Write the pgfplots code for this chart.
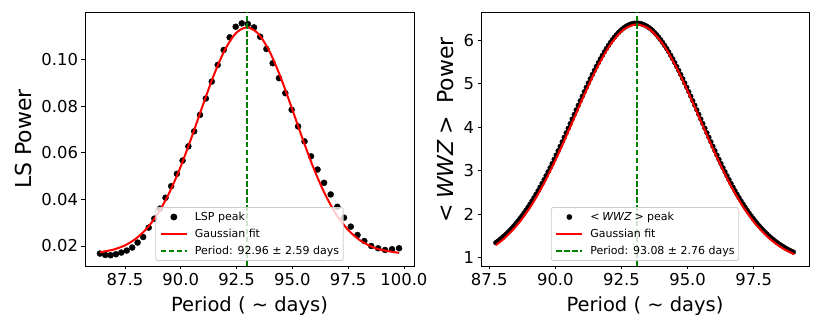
\documentclass[border=0pt]{standalone}
\usepackage{fontspec}
\setmainfont{DejaVu Sans}
\usepackage{pgfplots}
\usepackage{pgfplotstable}
\pgfplotsset{compat=1.18}
\definecolor{mplgreen}{HTML}{008000}

% LSP peak (period, power)
\pgfplotstableread{
p y
86.380 0.01675
86.617 0.01615
86.856 0.01602
87.096 0.01645
87.337 0.01717
87.580 0.01803
87.824 0.01932
88.069 0.02146
88.316 0.02385
88.564 0.02788
88.814 0.03173
89.064 0.03601
89.317 0.04072
89.571 0.04568
89.826 0.05099
90.083 0.05668
90.341 0.06280
90.601 0.06922
90.862 0.07630
91.125 0.08334
91.389 0.09062
91.655 0.09777
91.923 0.10419
92.191 0.10962
92.462 0.11416
92.734 0.11562
93.008 0.11532
93.283 0.11390
93.559 0.10988
93.838 0.10461
94.118 0.09849
94.400 0.09207
94.684 0.08565
94.969 0.07850
95.256 0.07136
95.545 0.06494
95.836 0.05852
96.128 0.05283
96.422 0.04713
96.718 0.04213
97.016 0.03686
97.315 0.03215
97.617 0.02830
97.920 0.02471
98.225 0.02214
98.533 0.02000
98.842 0.01902
99.152 0.01829
99.465 0.01859
99.780 0.01902
}\lspdata

% gaussian fit
\pgfplotstableread{
p y
86.38 0.01730
86.96 0.01839
87.46 0.02010
87.96 0.02293
88.46 0.02731
88.96 0.03367
89.46 0.04232
89.96 0.05323
90.46 0.06599
90.96 0.07966
91.46 0.09284
91.96 0.10390
92.46 0.11130
92.96 0.11390
93.46 0.11130
93.96 0.10390
94.46 0.09284
94.96 0.07966
95.46 0.06599
95.96 0.05323
96.46 0.04232
96.96 0.03367
97.46 0.02731
97.96 0.02293
98.46 0.02010
98.96 0.01839
99.78 0.01704
}\lspfit

% <WWZ> peak
\pgfplotstableread{
p y
87.750 1.345
87.826 1.380
87.902 1.416
87.978 1.455
88.054 1.495
88.130 1.538
88.206 1.583
88.282 1.630
88.358 1.679
88.434 1.731
88.510 1.785
88.586 1.841
88.662 1.900
88.738 1.961
88.814 2.025
88.890 2.091
88.966 2.159
89.042 2.230
89.118 2.303
89.194 2.379
89.270 2.457
89.346 2.538
89.422 2.621
89.498 2.706
89.574 2.793
89.650 2.883
89.726 2.974
89.802 3.067
89.878 3.163
89.954 3.259
90.030 3.358
90.106 3.458
90.182 3.559
90.258 3.662
90.334 3.765
90.410 3.869
90.486 3.974
90.562 4.080
90.638 4.185
90.714 4.291
90.790 4.396
90.866 4.502
90.942 4.606
91.018 4.710
91.094 4.813
91.170 4.914
91.246 5.014
91.322 5.112
91.398 5.208
91.474 5.302
91.550 5.393
91.626 5.482
91.702 5.568
91.778 5.650
91.854 5.730
91.930 5.805
92.006 5.877
92.082 5.945
92.158 6.008
92.234 6.067
92.310 6.122
92.386 6.172
92.462 6.217
92.538 6.257
92.614 6.292
92.690 6.322
92.766 6.346
92.842 6.365
92.918 6.379
92.994 6.387
93.070 6.390
93.146 6.387
93.222 6.379
93.298 6.365
93.374 6.346
93.450 6.322
93.526 6.292
93.602 6.257
93.678 6.217
93.754 6.172
93.830 6.122
93.906 6.067
93.982 6.008
94.058 5.945
94.134 5.877
94.210 5.805
94.286 5.730
94.362 5.650
94.438 5.568
94.514 5.482
94.590 5.393
94.666 5.302
94.742 5.208
94.818 5.112
94.894 5.014
94.970 4.914
95.046 4.813
95.122 4.710
95.198 4.606
95.274 4.502
95.350 4.396
95.426 4.291
95.502 4.185
95.578 4.080
95.654 3.974
95.730 3.869
95.806 3.765
95.882 3.662
95.958 3.559
96.034 3.458
96.110 3.358
96.186 3.259
96.262 3.163
96.338 3.067
96.414 2.974
96.490 2.883
96.566 2.793
96.642 2.706
96.718 2.621
96.794 2.538
96.870 2.457
96.946 2.379
97.022 2.303
97.098 2.230
97.174 2.159
97.250 2.091
97.326 2.025
97.402 1.961
97.478 1.900
97.554 1.841
97.630 1.785
97.706 1.731
97.782 1.679
97.858 1.630
97.934 1.583
98.010 1.538
98.086 1.495
98.162 1.455
98.238 1.416
98.314 1.380
98.390 1.345
98.466 1.312
98.542 1.281
98.618 1.252
98.694 1.224
98.770 1.198
98.846 1.174
98.922 1.151
98.998 1.129
}\wwzdata

\pgfplotstableread{
p y
87.75 1.289
88.08 1.449
88.58 1.767
89.08 2.189
89.58 2.718
90.08 3.341
90.58 4.026
91.08 4.723
91.58 5.369
92.08 5.895
92.58 6.240
93.08 6.360
93.58 6.240
94.08 5.895
94.58 5.369
95.08 4.723
95.58 4.026
96.08 3.341
96.58 2.718
97.08 2.189
97.58 1.767
98.08 1.449
98.58 1.221
99.03 1.080
}\wwzfit

\pgfplotsset{
  panel/.style={
    scale only axis, height=254pt,
    clip marker paths=true,
    axis line style={line width=0.8pt},
    tick align=outside, xtick pos=bottom, ytick pos=left,
    major tick length=3.5pt, tick style={line width=0.8pt, black},
    ticklabel style={font=\fontsize{16.4}{18}\selectfont},
    /pgf/number format/assume math mode=true,
    scaled ticks=false,
    xticklabel style={/pgf/number format/.cd, fixed, fixed zerofill, precision=1},
    xlabel style={font=\fontsize{19.5}{22}\selectfont, at={(axis description cs:0.5,0)}, anchor=base, yshift=-45.7pt},
    ylabel style={font=\fontsize{22}{24}\selectfont, anchor=base},
    legend cell align=left,
    legend style={at={(axis description cs:0.5,0.02)}, anchor=south,
      font=\fontsize{11}{13}\selectfont, draw=black!20, line width=0.8pt,
      rounded corners=2pt, fill=white, fill opacity=0.8, draw opacity=1, text opacity=1,
      inner xsep=4pt, inner ysep=4pt, row sep=6pt, column sep=7pt,
      nodes={inner sep=0pt, text height=8.5pt, text depth=2.5pt}},
  },
  ptleg/.style={legend image code/.code={\draw[mark repeat=2, mark phase=2, opacity=1, ##1] plot coordinates {(0pt,0pt) (13pt,0pt) (26pt,0pt)};}},
  lnleg/.style={legend image code/.code={\draw[opacity=1, ##1] (0pt,0pt) -- (26pt,0pt);}},
}

\begin{document}
\begin{tikzpicture}
\useasboundingbox (0,0) rectangle (822pt,329pt);

\begin{axis}[panel,
  at={(85pt,63pt)}, anchor=south west, width=329pt,
  xmin=85.71, xmax=100.45, ymin=0.0114, ymax=0.1205,
  xtick={87.5,90,92.5,95,97.5,100},
  ytick={0.02,0.04,0.06,0.08,0.10},
  yticklabel style={/pgf/number format/.cd, fixed, fixed zerofill, precision=2},
  xlabel={Period ( ∼ days)},
  ylabel={LS Power},
  ylabel style={at={(axis description cs:0,0.5)}, yshift=53.3pt},
]
\addplot[only marks, mark=*, mark size=3pt, black, ptleg] table[x=p, y=y] {\lspdata};
\addlegendentry{LSP peak}
\addplot[red, line width=2pt, smooth, no markers, lnleg] table[x=p, y=y] {\lspfit};
\addlegendentry{Gaussian fit}
\addplot[mplgreen, line width=1.5pt, dash pattern=on 5.5pt off 2.4pt, lnleg] coordinates {(92.96,0.0114) (92.96,0.1205)};
\addlegendentry{Period: 92.96 ± 2.59 days}
\end{axis}

\begin{axis}[panel,
  at={(481pt,63pt)}, anchor=south west, width=328pt,
  xmin=87.19, xmax=99.59, ymin=0.81, ymax=6.645,
  xtick={87.5,90,92.5,95,97.5},
  ytick={1,2,3,4,5,6},
  yticklabel style={/pgf/number format/.cd, fixed, precision=0},
  xlabel={Period ( ∼ days)},
  ylabel={<\hspace{0.25em}\textit{WWZ}\hspace{0.25em}>\hspace{0.55em}Power},
  ylabel style={at={(axis description cs:0,0.535)}, yshift=28pt},
]
\addplot[only marks, mark=*, mark size=2.4pt, black, ptleg] table[x=p, y=y] {\wwzdata};
\addlegendentry{<\hspace{0.25em}\textit{WWZ}\hspace{0.25em}>\hspace{0.3em}peak}
\addplot[red, line width=2pt, smooth, no markers, lnleg] table[x=p, y=y] {\wwzfit};
\addlegendentry{Gaussian fit}
\addplot[mplgreen, line width=1.5pt, dash pattern=on 5.5pt off 2.4pt, lnleg] coordinates {(93.08,0.81) (93.08,6.645)};
\addlegendentry{Period: 93.08 ± 2.76 days}
\end{axis}
\end{tikzpicture}
\end{document}
